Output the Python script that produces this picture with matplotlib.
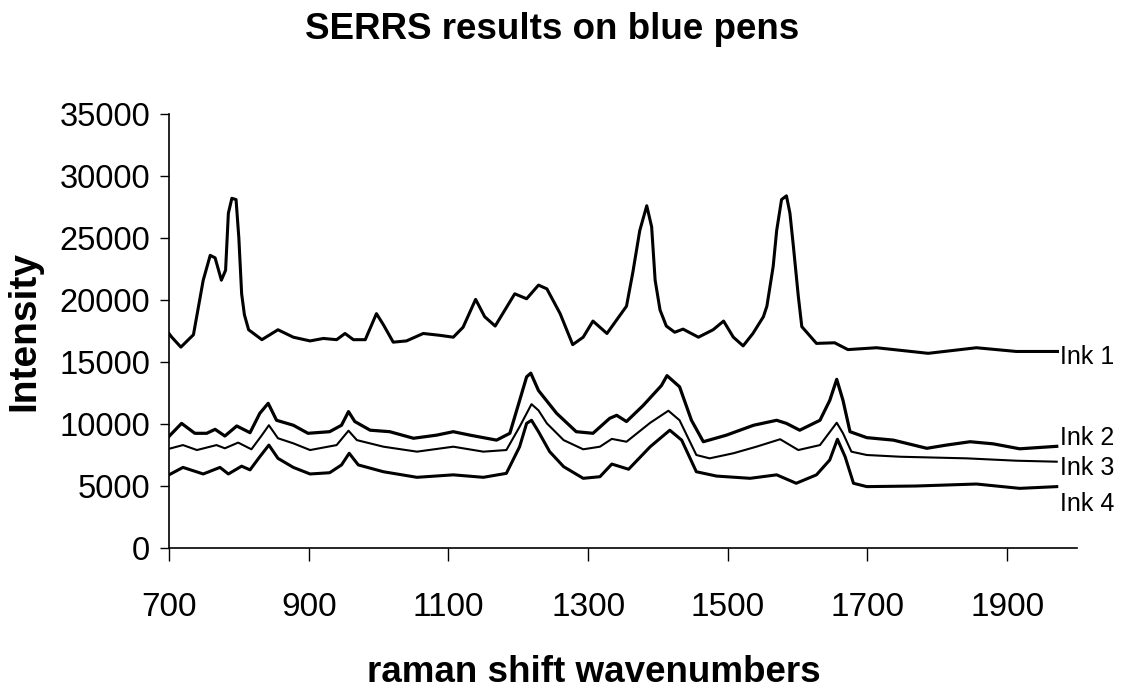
import numpy as np
import matplotlib
matplotlib.use("Agg")
import matplotlib.pyplot as plt

plt.rcParams['font.family'] = ['Liberation Sans', 'DejaVu Sans']

# ---- data (intensity in thousands) ----
ink1_x = [700, 704, 717, 735, 749, 759, 766, 775, 781, 785, 790, 796, 800, 804, 808, 814,
          833, 856, 878, 902, 921, 940, 952, 964, 981, 997, 1007, 1021, 1040, 1064, 1088,
          1107, 1121, 1139, 1152, 1167, 1195, 1212, 1229, 1241, 1260, 1278, 1293, 1307,
          1327, 1355, 1364, 1374, 1384, 1391, 1396, 1403, 1412, 1424, 1436, 1458, 1479,
          1494, 1508, 1522, 1536, 1551, 1556, 1565, 1570, 1577, 1584, 1589, 1594, 1601,
          1606, 1627, 1653, 1672, 1713, 1787, 1856, 1913, 1972]
ink1_y = [17.3, 17.0, 16.2, 17.2, 21.6, 23.6, 23.4, 21.6, 22.4, 27.0, 28.2, 28.1, 25.0,
          20.5, 18.8, 17.6, 16.8, 17.6, 17.0, 16.7, 16.9, 16.8, 17.3, 16.8, 16.8, 18.9,
          18.0, 16.6, 16.7, 17.3, 17.15, 17.0, 17.8, 20.05, 18.65, 17.9, 20.5, 20.1, 21.2,
          20.9, 18.9, 16.4, 17.0, 18.3, 17.3, 19.5, 22.2, 25.6, 27.6, 25.9, 21.6, 19.2,
          17.9, 17.4, 17.65, 17.0, 17.6, 18.3, 17.0, 16.3, 17.3, 18.65, 19.5, 22.7, 25.6,
          28.1, 28.4, 27.0, 24.3, 20.3, 17.85, 16.5, 16.55, 16.0, 16.15, 15.7, 16.15,
          15.85, 15.85]

ink2_x = [700, 718, 737, 754, 766, 780, 797, 816, 830, 842, 854, 878, 899, 930, 947, 957,
          966, 988, 1016, 1050, 1083, 1107, 1131, 1169, 1188, 1202, 1212, 1218, 1229, 1255,
          1283, 1307, 1331, 1341, 1355, 1379, 1405, 1413, 1431, 1448, 1465, 1498, 1537,
          1570, 1584, 1603, 1632, 1646, 1656, 1665, 1675, 1699, 1737, 1785, 1813, 1847,
          1880, 1918, 1971]
ink2_y = [9.0, 10.05, 9.25, 9.25, 9.57, 9.03, 9.84, 9.3, 10.86, 11.67, 10.3, 9.9, 9.25,
          9.38, 9.9, 11.0, 10.2, 9.5, 9.38, 8.85, 9.1, 9.38, 9.1, 8.7, 9.25, 11.9, 13.8,
          14.1, 12.7, 10.86, 9.38, 9.25, 10.46, 10.7, 10.2, 11.5, 13.1, 13.9, 13.0, 10.3,
          8.57, 9.1, 9.9, 10.3, 10.05, 9.5, 10.3, 11.9, 13.6, 11.9, 9.38, 8.9, 8.7, 8.04,
          8.3, 8.57, 8.4, 8.0, 8.2]

ink3_x = [700, 720, 740, 768, 780, 799, 818, 833, 843, 856, 878, 902, 940, 957, 969, 1007,
          1055, 1107, 1150, 1183, 1202, 1219, 1229, 1241, 1265, 1293, 1317, 1334, 1355,
          1389, 1415, 1431, 1455, 1474, 1508, 1541, 1575, 1601, 1632, 1656, 1665, 1677,
          1699, 1747, 1842, 1913, 1971]
ink3_y = [8.0, 8.3, 7.9, 8.3, 8.04, 8.5, 7.96, 9.1, 9.9, 8.85, 8.44, 7.9, 8.3, 9.46, 8.7,
          8.17, 7.77, 8.17, 7.77, 7.9, 9.78, 11.6, 11.1, 10.05, 8.7, 7.96, 8.17, 8.8, 8.57,
          10.1, 11.07, 10.3, 7.5, 7.23, 7.64, 8.17, 8.77, 7.9, 8.3, 10.1, 9.25, 7.77, 7.5,
          7.36, 7.23, 7.04, 6.96]

ink4_x = [700, 720, 749, 773, 785, 804, 816, 830, 843, 856, 878, 902, 930, 947, 958, 971,
          1007, 1055, 1107, 1150, 1183, 1202, 1212, 1219, 1229, 1245, 1265, 1293, 1317,
          1334, 1358, 1389, 1417, 1434, 1455, 1484, 1532, 1570, 1598, 1627, 1646, 1657,
          1668, 1680, 1699, 1770, 1856, 1918, 1971]
ink4_y = [5.9, 6.5, 5.97, 6.5, 5.97, 6.6, 6.3, 7.36, 8.3, 7.23, 6.5, 5.97, 6.07, 6.7, 7.64,
          6.7, 6.15, 5.7, 5.9, 5.7, 6.02, 8.17, 10.05, 10.3, 9.38, 7.77, 6.56, 5.62, 5.75,
          6.77, 6.35, 8.17, 9.5, 8.7, 6.15, 5.8, 5.62, 5.9, 5.22, 5.9, 7.1, 8.77, 7.36,
          5.22, 4.95, 5.0, 5.16, 4.81, 4.95]

series_names = ["Ink 1", "Ink 2", "Ink 3", "Ink 4"]
label_y = [15400, 8900, 6450, 3550]      # label anchor heights
label_x = 1976

x_ticks = [700, 900, 1100, 1300, 1500, 1700, 1900]
y_ticks = [0, 5000, 10000, 15000, 20000, 25000, 30000, 35000]

# ---- figure ----
fig = plt.figure(figsize=(11.21, 6.88), dpi=100)
ax = fig.add_axes([169 / 1121, 1 - 548 / 688, 908 / 1121, 434 / 688])

xs = [ink1_x, ink2_x, ink3_x, ink4_x]
ys = [ink1_y, ink2_y, ink3_y, ink4_y]
widths = [2.2, 2.3, 1.5, 2.2]
for x, y, lw in zip(xs, ys, widths):
    ax.plot(x, np.array(y) * 1000, color='black', lw=lw, solid_joinstyle='round')

for name, ly in zip(series_names, label_y):
    ax.text(label_x, ly, name, fontsize=18, va='center', ha='left', color='black')

ax.set_xlim(700, 2000)
ax.set_ylim(0, 35000)
ax.set_xticks(x_ticks)
ax.set_yticks(y_ticks)
ax.tick_params(axis='y', direction='out', length=6.5, width=1.0, pad=7, labelsize=23.5)
ax.tick_params(axis='x', direction='out', length=9.5, width=1.0, pad=22, labelsize=24)

for s in ['top', 'right']:
    ax.spines[s].set_visible(False)
for s in ['left', 'bottom']:
    ax.spines[s].set_linewidth(1.2)

ax.set_xlabel("raman shift wavenumbers", fontsize=26.5, fontweight='bold')
ax.xaxis.set_label_coords((594 - 169) / 908, (548 - 672) / 434)
ax.xaxis.label.set_va('center')
ax.set_ylabel("Intensity", fontsize=28, fontweight='bold')
ax.yaxis.set_label_coords((24 - 169) / 908, 0.5)
ax.yaxis.label.set_va('center')

fig.text(552 / 1121, 1 - 39 / 688, "SERRS results on blue pens", fontsize=26.5,
         fontweight='bold', ha='center', va='baseline')

fig.savefig("out.png", dpi=100, facecolor='white')
